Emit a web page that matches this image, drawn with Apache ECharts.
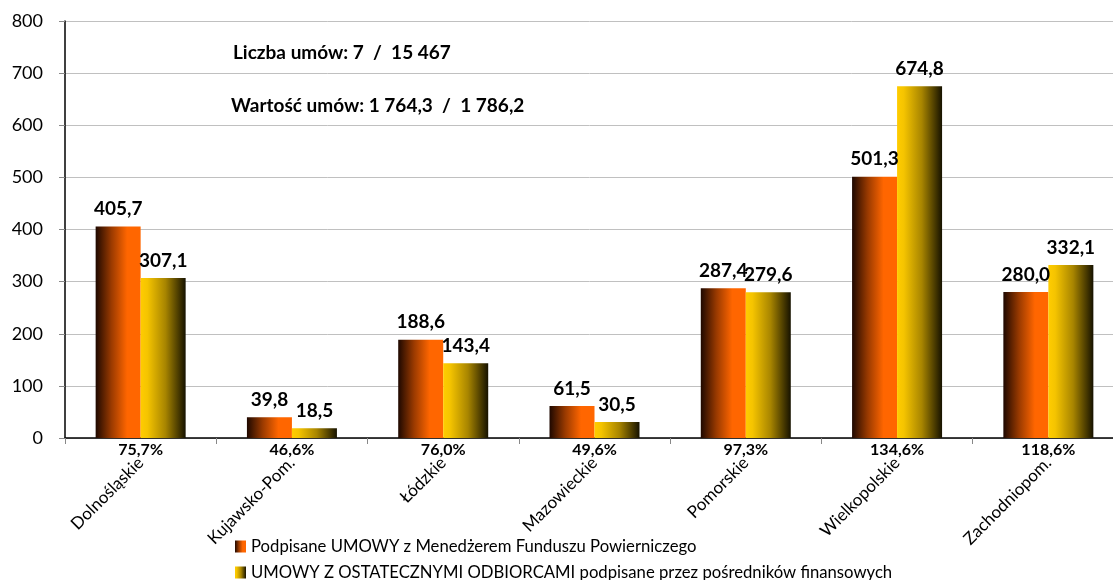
<!DOCTYPE html>
<html>
<head>
<meta charset="utf-8">
<script src="https://cdn.jsdelivr.net/npm/echarts@6/dist/echarts.min.js"></script>
<style>
html,body{margin:0;padding:0;background:#fff;}
#chart{width:1113px;height:580px;}
</style>
</head>
<body>
<div id="chart"></div>
<script>
const categories = ['Dolnośląskie','Kujawsko-Pom.','Łódzkie','Mazowieckie','Pomorskie','Wielkopolskie','Zachodniopom.'];
const seriesFundName = 'Podpisane UMOWY z Menedżerem Funduszu Powierniczego';
const seriesFinalName = 'UMOWY Z OSTATECZNYMI ODBIORCAMI podpisane przez pośredników finansowych';
const fundValues = [405.7, 39.8, 188.6, 61.5, 287.4, 501.3, 280.0];
const finalValues = [307.1, 18.5, 143.4, 30.5, 279.6, 674.8, 332.1];
const percentLabels = ['75,7%','46,6%','76,0%','49,6%','97,3%','134,6%','118,6%'];
const yTicks = [0,100,200,300,400,500,600,700,800];
const noteCount = 'Liczba umów: 7  /  15 467';
const noteValue = 'Wartość umów: 1 764,3  /  1 786,2';

const FONT = 'Lato, Carlito, Calibri, sans-serif';
const fmt = v => v.toFixed(1).replace('.', ',');

const chart = echarts.init(document.getElementById('chart'));
const gradFund = new echarts.graphic.LinearGradient(0,0,1,0,[
  {offset:0,color:'#1e0800'},{offset:0.35,color:'#9a3a00'},{offset:0.7,color:'#ff6600'},{offset:1,color:'#ff6600'}]);
const gradFinal = new echarts.graphic.LinearGradient(0,0,1,0,[
  {offset:0,color:'#ffcc00'},{offset:0.15,color:'#f5c400'},{offset:0.55,color:'#a88500'},{offset:1,color:'#161200'}]);

const labelCfg = {
  show:true, position:'top', distance:8,
  color:'#000', fontFamily:FONT, fontWeight:'bold', fontSize:19,
  formatter: p => fmt(p.value)
};
const legendBase = {
  orient:'horizontal', left:235, itemWidth:11, itemHeight:12, itemGap:4,
  icon:'rect', padding:0,
  textStyle:{fontFamily:FONT,fontSize:16.7,color:'#000'}
};

chart.setOption({
  animation:false,
  backgroundColor:'#fff',
  title:[
    {text:noteCount, left:228, top:38, textStyle:{fontFamily:FONT,fontWeight:'bold',fontSize:19,color:'#000'}},
    {text:noteValue, left:226, top:91, textStyle:{fontFamily:FONT,fontWeight:'bold',fontSize:19,color:'#000'}}
  ],
  legend:[
    Object.assign({}, legendBase, {top:538, data:[seriesFundName]}),
    Object.assign({}, legendBase, {top:564, data:[seriesFinalName]})
  ],
  grid:{left:65, top:21, width:1059, bottom:142, containLabel:false, outerBoundsMode:'none'},
  xAxis:[
    {
      type:'category', data:categories, position:'bottom',
      axisLine:{lineStyle:{color:'#000',width:1.5}},
      axisTick:{show:true,length:6,lineStyle:{color:'#888'}},
      axisLabel:{rotate:45, margin:22, interval:0, fontFamily:FONT, fontSize:17, color:'#000'}
    },
    {
      type:'category', data:percentLabels, position:'bottom',
      axisLine:{show:false}, axisTick:{show:false},
      axisLabel:{margin:4, interval:0, fontFamily:FONT, fontWeight:'bold', fontSize:16, color:'#000'}
    }
  ],
  yAxis:{
    type:'value', min:yTicks[0], max:yTicks[yTicks.length-1], interval:100,
    axisLine:{show:true,lineStyle:{color:'#000',width:1.5}},
    axisTick:{show:true,length:6,lineStyle:{color:'#888'}},
    axisLabel:{margin:22, fontFamily:FONT, fontSize:18, color:'#000'},
    splitLine:{lineStyle:{color:'#c0c0c0',width:1}}
  },
  series:[
    {name:seriesFundName, type:'bar', data:fundValues, barWidth:45, barGap:'0%',
     itemStyle:{color:gradFund}, label:labelCfg},
    {name:seriesFinalName, type:'bar', data:finalValues, barWidth:45, barGap:'0%',
     itemStyle:{color:gradFinal}, label:labelCfg}
  ]
});
</script>
</body>
</html>
